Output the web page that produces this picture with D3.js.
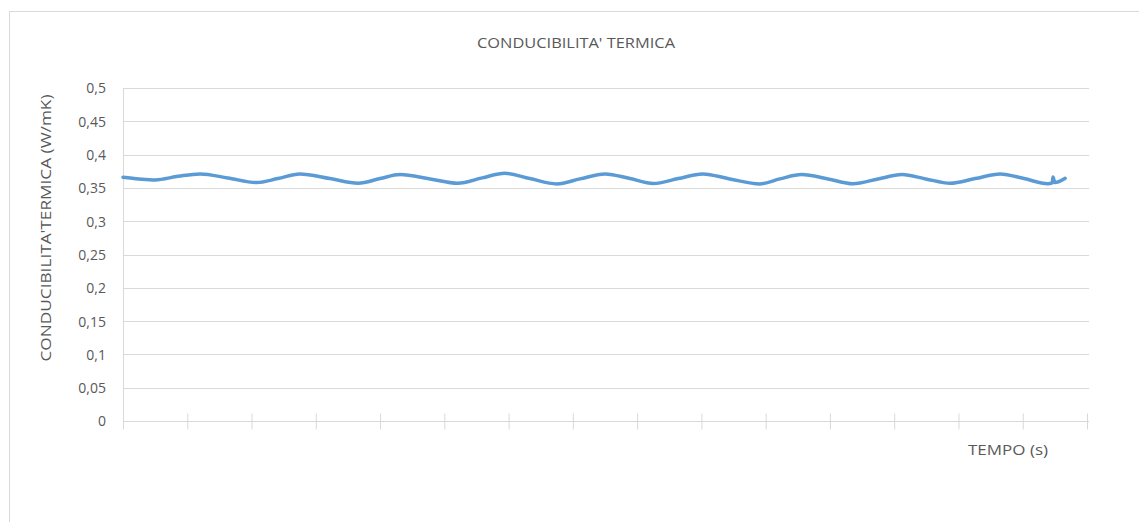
<!DOCTYPE html>
<html>
<head>
<meta charset="utf-8">
<script src="https://cdn.jsdelivr.net/npm/d3@7"></script>
<style>
  html, body { margin: 0; padding: 0; background: #fff; }
  svg { display: block; }
  text { font-family: "Open Sans", "Noto Sans", sans-serif; fill: #595959; }
</style>
</head>
<body>
<svg id="chart" width="1139" height="522"></svg>
<script>
// Time samples (s) and thermal conductivity readings (W/mK)
const tempo = [
  0, 25, 50, 86, 120, 163, 208, 241, 275, 322, 366, 400, 431, 478, 521,
  559, 594, 633, 675, 711, 750, 789, 825, 864, 902, 944, 991, 1022, 1056,
  1097, 1136, 1175, 1212, 1249, 1287, 1326, 1365, 1402, 1439, 1446, 1447,
  1450, 1466
];
const conducibilita = [
  0.366, 0.3635, 0.362, 0.3675, 0.371, 0.365, 0.358, 0.364, 0.371, 0.364,
  0.357, 0.364, 0.370, 0.3635, 0.357, 0.365, 0.372, 0.364, 0.356, 0.3635,
  0.371, 0.364, 0.3566, 0.364, 0.371, 0.3635, 0.356, 0.3635, 0.370, 0.3635,
  0.3563, 0.3635, 0.370, 0.3635, 0.357, 0.364, 0.371, 0.364, 0.3563, 0.3575,
  0.3664, 0.358, 0.3644
];
const yTicks = [0, 0.05, 0.1, 0.15, 0.2, 0.25, 0.3, 0.35, 0.4, 0.45, 0.5];
const xTicks = d3.range(0, 1501, 100);

const title = "CONDUCIBILITA' TERMICA";
const yTitle = "CONDUCIBILITA'TERMICA (W/mK)";
const xTitle = "TEMPO (s)";

const svg = d3.select("#chart");
const plot = { left: 123, right: 1087, top: 88, bottom: 421 };

const x = d3.scaleLinear().domain([0, 1500]).range([plot.left, plot.right]);
const y = d3.scaleLinear().domain([0, 0.5]).range([plot.bottom, plot.top]);

// chart frame
svg.append("rect")
  .attr("x", 9.5).attr("y", 11.5)
  .attr("width", 1140).attr("height", 520)
  .attr("fill", "none").attr("stroke", "#d9d9d9");

// horizontal gridlines
svg.append("g")
  .selectAll("line")
  .data(yTicks.filter(d => d > 0))
  .join("line")
  .attr("x1", plot.left).attr("x2", plot.right + 2)
  .attr("y1", d => Math.round(y(d)) + 0.5)
  .attr("y2", d => Math.round(y(d)) + 0.5)
  .attr("stroke", "#d9d9d9").attr("stroke-width", 1);

// y axis labels
const yAxis = d3.axisLeft(y)
  .tickValues(yTicks)
  .tickSize(0)
  .tickPadding(17)
  .tickFormat(d => String(d).replace(".", ","));
const gy = svg.append("g").attr("transform", `translate(${plot.left},0.5)`).call(yAxis);
gy.select(".domain").remove();
gy.selectAll("text")
  .attr("fill", "#595959")
  .style("font-family", '"Open Sans", sans-serif')
  .style("font-size", "14px");

// vertical axis line
svg.append("line")
  .attr("x1", plot.left + 0.5).attr("x2", plot.left + 0.5)
  .attr("y1", plot.top).attr("y2", plot.bottom + 8)
  .attr("stroke", "#d9d9d9");

// x axis with crossing tick marks
const xAxis = d3.axisBottom(x)
  .tickValues(xTicks)
  .tickSizeInner(8)
  .tickSizeOuter(0)
  .tickFormat("");
const gx = svg.append("g").attr("transform", `translate(0,${Math.round(y(0)) + 0.5})`).call(xAxis);
gx.select(".domain").attr("stroke", "#d9d9d9").attr("d", `M${plot.left},0H${plot.right + 2}`);
gx.selectAll(".tick line")
  .attr("stroke", "#d9d9d9")
  .attr("y1", -8).attr("y2", 8);

// data line
const series = tempo.map((t, i) => ({ t, v: conducibilita[i] }));
const line = d3.line()
  .x(d => x(d.t))
  .y(d => y(d.v))
  .curve(d3.curveMonotoneX);
svg.append("path")
  .datum(series)
  .attr("d", line)
  .attr("fill", "none")
  .attr("stroke", "#5b9bd5")
  .attr("stroke-width", 3.5)
  .attr("stroke-linejoin", "round")
  .attr("stroke-linecap", "round");

// titles (glyphs widened to the chart's text widths)
svg.append("text")
  .attr("x", 576).attr("y", 48)
  .attr("text-anchor", "middle")
  .attr("textLength", 198)
  .attr("lengthAdjust", "spacingAndGlyphs")
  .style("font-size", "14px")
  .text(title);

svg.append("text")
  .attr("transform", `translate(51,228) rotate(-90)`)
  .attr("text-anchor", "middle")
  .attr("textLength", 267)
  .attr("lengthAdjust", "spacingAndGlyphs")
  .style("font-size", "14px")
  .text(yTitle);

svg.append("text")
  .attr("x", 1008).attr("y", 455)
  .attr("text-anchor", "middle")
  .attr("textLength", 80)
  .attr("lengthAdjust", "spacingAndGlyphs")
  .style("font-size", "14px")
  .text(xTitle);
</script>
</body>
</html>
